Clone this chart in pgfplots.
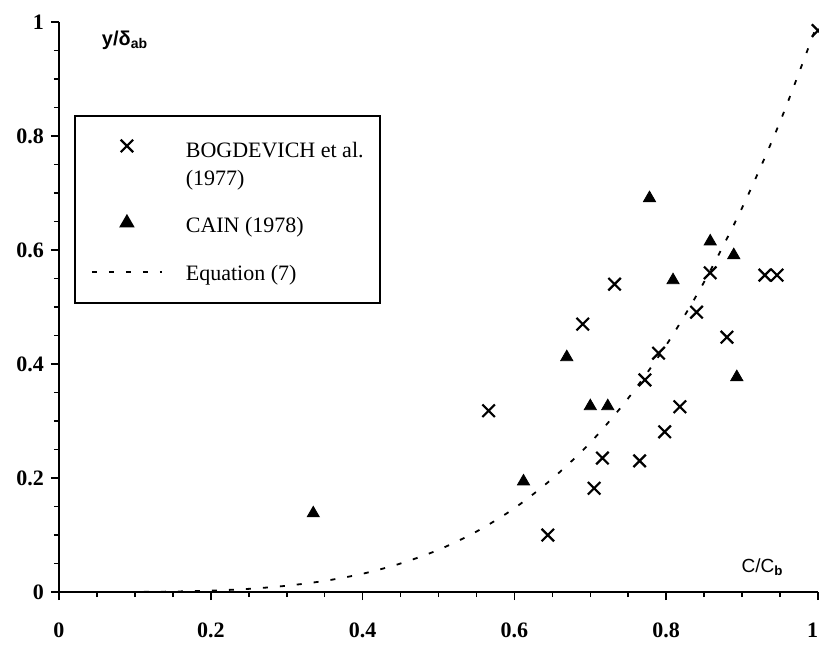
\documentclass[border=0pt]{standalone}
\usepackage{fontspec}
\setmainfont{Liberation Serif}
\newfontfamily\sansf{Liberation Sans}
\usepackage{pgfplots}
\pgfplotsset{compat=1.18}
\pgfplotsset{
    markleg/.style={legend image code/.code={\draw[##1, mark repeat=2, mark phase=2]
        plot coordinates {(0pt,#1) (17.5pt,#1) (35pt,#1)};}},
    lineleg/.style={legend image code/.code={\draw[##1] (0pt,#1) -- (35pt,#1);}},
}

\begin{document}
\begin{tikzpicture}
\begin{axis}[
    scale only axis,
    width=379.5pt, height=285pt,
    xmin=0, xmax=1, ymin=0, ymax=1,
    axis x line*=bottom, axis y line*=left,
    axis line style={-, line width=1.1pt},
    xtick={0,0.2,0.4,0.6,0.8,1},
    xticklabels={0,0.2,0.4,0.6,0.8,\llap{1}},
    ytick={0,0.2,0.4,0.6,0.8,1},
    minor tick num=3,
    tick align=outside,
    major tick length=4pt,
    minor tick length=2.5pt,
    tick style={black, line width=0.8pt},
    /pgf/number format/assume math mode=true,
    tick label style={font=\fontsize{11}{13}\selectfont\bfseries},
    xticklabel style={yshift=-8pt},
    xlabel={\sansf C/C\textsubscript{\bfseries b}},
    xlabel style={at={(axis cs:0.927,0.044)}, anchor=center, font=\fontsize{9.5}{11}\selectfont},
    ylabel={\sansf\bfseries y/δ\textsubscript{ab}},
    ylabel style={at={(axis cs:0.087,0.968)}, anchor=center, rotate=-90, font=\fontsize{10}{11}\selectfont},
    legend style={at={(axis cs:0.0198,0.837)}, anchor=north west,
        draw=black, line width=1pt,
        inner xsep=8pt, inner ysep=0pt, row sep=0pt, column sep=11.5pt,
        font=\fontsize{11}{13.5}\selectfont,
        nodes={inner sep=0pt},
        cells={anchor=base west}},
]
\coordinate (O) at (axis cs:0,0);

% BOGDEVICH et al. (1977)
\addplot[only marks, mark=x, mark size=4.4pt, line width=1.1pt, black, markleg=6pt]
coordinates {
    (0.566,0.318) (0.644,0.100) (0.690,0.470) (0.705,0.182)
    (0.716,0.235) (0.732,0.540) (0.765,0.230) (0.772,0.372)
    (0.790,0.419) (0.798,0.281) (0.818,0.325) (0.840,0.491)
    (0.858,0.560) (0.880,0.447) (0.930,0.556) (0.946,0.556)
    (1.000,0.985)
};
\addlegendentry[text height=21pt, text depth=3pt]{BOGDEVICH et al.}
\addlegendimage{empty legend}
\addlegendentry[text height=11pt, text depth=12pt]{(1977)}

% CAIN (1978)
\addplot[only marks, mark=triangle*, mark size=3.5pt, black, markleg=5pt]
coordinates {
    (0.335,0.138) (0.612,0.194) (0.669,0.412) (0.700,0.326)
    (0.723,0.326) (0.778,0.691) (0.809,0.547) (0.858,0.615)
    (0.889,0.591) (0.893,0.377)
};
\addlegendentry[text height=11.5pt, text depth=12pt]{CAIN (1978)}

% Equation (7)
\addplot[black, line width=0.9pt, dash pattern=on 2.5pt off 6pt, smooth, lineleg=4.5pt]
coordinates {
    (0,0) (0.05,0.00001) (0.1,0.0002) (0.15,0.0008) (0.2,0.0024)
    (0.25,0.0055) (0.3,0.011) (0.35,0.0195) (0.4,0.032) (0.45,0.050)
    (0.5,0.074) (0.55,0.106) (0.6,0.147) (0.65,0.199) (0.7,0.262)
    (0.75,0.340) (0.8,0.433) (0.85,0.544) (0.9,0.674) (0.95,0.825)
    (1,1)
};
\addlegendentry[text height=12pt, text depth=11pt]{Equation (7)}
\end{axis}
\pgfresetboundingbox
\path[use as bounding box] (O) ++(-29.5pt,-26pt) rectangle ++(409.5pt,322pt);
\end{tikzpicture}
\end{document}
